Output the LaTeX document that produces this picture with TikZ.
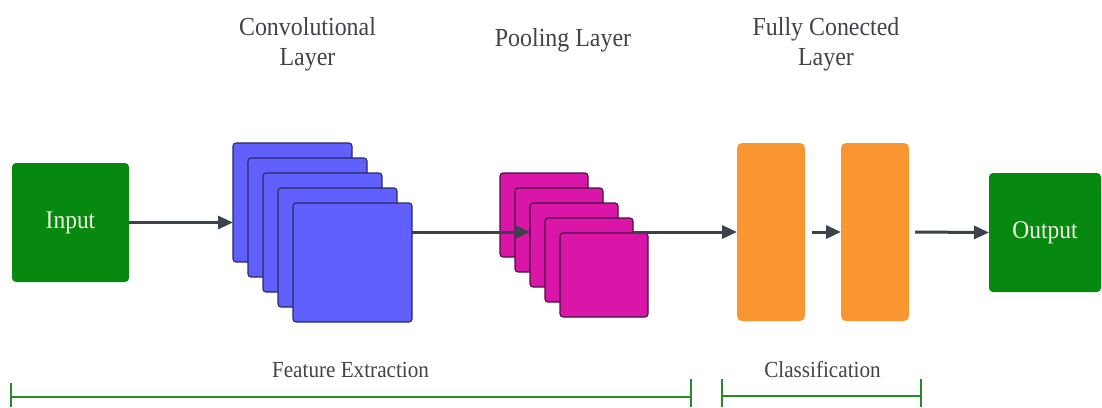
\documentclass[tikz,border=0pt]{standalone}
\usepackage{fontspec}
\setmainfont{Liberation Serif}[FakeStretch=0.92]
\usetikzlibrary{arrows.meta,positioning}

\definecolor{boxgreen}{HTML}{07880F}
\definecolor{convblue}{HTML}{6060FF}
\definecolor{convedge}{HTML}{2A2A60}
\definecolor{poolpink}{HTML}{D916A8}
\definecolor{pooledge}{HTML}{4A1040}
\definecolor{fcorange}{HTML}{FA9632}
\definecolor{linkgray}{HTML}{3C424C}
\definecolor{labelgray}{HTML}{404348}
\definecolor{bracegreen}{HTML}{2A8A2A}
\definecolor{boxtext}{HTML}{F2F2E6}

\tikzset{
  iobox/.style={fill=boxgreen, rounded corners=4pt, minimum width=117pt,
    minimum height=119pt, inner sep=0pt, outer sep=0pt, text=boxtext,
    font=\fontsize{25.5}{30}\selectfont},
  convsheet/.style={fill=convblue, draw=convedge, line width=1.1pt,
    rounded corners=3pt, minimum width=119pt, minimum height=119pt,
    inner sep=0pt, outer sep=0pt, anchor=north west},
  poolsheet/.style={fill=poolpink, draw=pooledge, line width=1.1pt,
    rounded corners=3pt, minimum width=88pt, minimum height=84pt,
    inner sep=0pt, outer sep=0pt, anchor=north west},
  fcbar/.style={fill=fcorange, rounded corners=5pt, minimum width=68pt,
    minimum height=178pt, inner sep=0pt, outer sep=0pt, anchor=north west},
  flow/.style={draw=linkgray, line width=3pt,
    -{Triangle[length=15pt,width=13pt]}},
  toplabel/.style={text=labelgray, align=center, inner sep=0pt,
    font=\fontsize{26}{30}\selectfont},
  grouplabel/.style={text=labelgray, inner sep=0pt, anchor=base,
    font=\fontsize{23}{27}\selectfont},
  bracket/.style={draw=bracegreen, line width=1.6pt}
}

\begin{document}
\begin{tikzpicture}[x=1pt, y=-1pt]
  \useasboundingbox (0,0) rectangle (1102,407);
  \fill[white] (0,0) rectangle (1102,407);

  % axis of the main data flow
  \coordinate (axis) at (0,232);

  % input
  \node[iobox, anchor=north west] (in) at (12,163) {Input};

  % stack of convolution feature maps
  \foreach \k in {1,...,5} {
    \node[convsheet] (c\k) at ({233+15*(\k-1)},{143+15*(\k-1)}) {};
  }

  % stack of pooled maps
  \foreach \k in {1,...,5} {
    \node[poolsheet] (m\k) at ({500+15*(\k-1)},{173+15*(\k-1)}) {};
  }

  % fully connected layers
  \node[fcbar] (f1) at (737,143) {};
  \node[fcbar] (f2) at (841,143) {};

  % output
  \node[iobox, anchor=north west, minimum width=112pt] (out) at (989,173) {Output};

  % connectors
  \draw[flow] (in.east) -- (c1.west |- in.east);
  \draw[flow] (c5.east |- axis) -- (m3.west |- axis);
  \draw[flow] (m4.east |- axis) -- (f1.west);
  \draw[flow, shorten <=7pt] (f1.east) -- (f2.west);
  \draw[flow, shorten <=6pt] (f2.east) -- (out.west);

  % layer titles (base = baseline of the last line)
  \node[toplabel, anchor=base] (tconv) at (307.5,65) {Convolutional\\Layer};
  \node[toplabel, anchor=base] (tpool) at (563,46) {Pooling Layer};
  \node[toplabel, anchor=base] (tfc) at (826,65) {Fully Conected\\Layer};

  % stage brackets
  \coordinate (feL) at (11,383);
  \coordinate (feR) at (691,379);
  \coordinate (clL) at (722,379);
  \coordinate (clR) at (921,379);
  \draw[bracket] (feL) -- (feL |- 0,407);
  \draw[bracket] (feR) -- (feR |- 0,407);
  \draw[bracket] (feL |- 0,397) -- (feR |- 0,397);
  \draw[bracket] (clL) -- (clL |- 0,407);
  \draw[bracket] (clR) -- (clR |- 0,407);
  \draw[bracket] (clL |- 0,396) -- (clR |- 0,396);

  \node[grouplabel] (gfe) at (350.5,377) {Feature Extraction};
  \node[grouplabel] (gcl) at (822.5,377) {Classification};
\end{tikzpicture}
\end{document}
